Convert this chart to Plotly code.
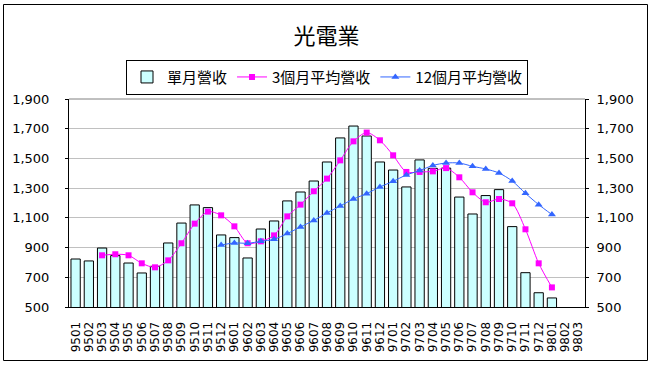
import plotly.graph_objects as go

months = ["9501","9502","9503","9504","9505","9506","9507","9508","9509","9510","9511","9512",
          "9601","9602","9603","9604","9605","9606","9607","9608","9609","9610","9611","9612",
          "9701","9702","9703","9704","9705","9706","9707","9708","9709","9710","9711","9712",
          "9801","9802","9803"]

monthly = [823, 810, 897, 846, 796, 729, 774, 931, 1065, 1187, 1169, 985,
           967, 830, 1025, 1079, 1214, 1274, 1348, 1476, 1638, 1718, 1651, 1476,
           1422, 1308, 1490, 1433, 1435, 1240, 1126, 1250, 1290, 1041, 731, 596,
           561, None, None]

avg3 = [None, None, 848, 855, 848, 794, 767, 814, 929, 1061, 1142, 1117,
        1043, 929, 942, 982, 1110, 1189, 1279, 1364, 1487, 1615, 1674, 1622,
        1521, 1409, 1409, 1413, 1435, 1373, 1272, 1205, 1227, 1198, 1023, 794,
        632, None, None]

avg12 = [None]*11 + [917,
         931, 929, 942, 956, 994, 1039, 1083, 1133, 1180, 1227, 1263, 1308,
         1346, 1389, 1418, 1453, 1469, 1469, 1447, 1429, 1402, 1348, 1265, 1189,
         1122, None, None]

yticks = [500, 700, 900, 1100, 1300, 1500, 1700, 1900]

FONT = "DejaVu Sans"
CJK = "Noto Sans CJK TC"

fig = go.Figure()
fig.add_trace(go.Bar(x=months, y=monthly, name="單月營收",
                     marker=dict(color="#CCFFFF", line=dict(color="black", width=1))))
fig.add_trace(go.Scatter(x=months, y=avg3, name="3個月平均營收", mode="lines+markers",
                         line=dict(color="#FF00FF", width=1, shape="spline", smoothing=0.8),
                         marker=dict(symbol="square", size=6, color="#FF00FF")))
fig.add_trace(go.Scatter(x=months, y=avg12, name="12個月平均營收", mode="lines+markers",
                         line=dict(color="#3366FF", width=1, shape="spline", smoothing=0.8),
                         marker=dict(symbol="triangle-up", size=7, color="#3366FF")))
# dummy trace to display the right axis
fig.add_trace(go.Scatter(x=[months[0]], y=[None], yaxis="y2", showlegend=False,
                         hoverinfo="skip", mode="lines"))

axis_common = dict(range=[500, 1900], tickvals=yticks, tickformat=",",
                   ticks="outside", ticklen=3, tickcolor="black",
                   showline=True, linecolor="black", linewidth=1,
                   tickfont=dict(family=FONT, size=13, color="black"), zeroline=False)

fig.update_layout(
    width=653, height=366,
    margin=dict(l=69, r=68, t=99, b=59, pad=0),
    paper_bgcolor="white", plot_bgcolor="white",
    bargap=0.3,
    title=dict(text="光電業", x=0.5, xanchor="center", y=1 - 36/366, yanchor="middle",
               font=dict(family=CJK, size=22, color="black")),
    legend=dict(orientation="h", x=0.5, xanchor="center", y=1.189, yanchor="top",
                bordercolor="black", borderwidth=1, bgcolor="white",
                font=dict(family=CJK, size=15, color="black"),
                tracegroupgap=0),
    xaxis=dict(type="category", categoryorder="array", categoryarray=months,
               tickmode="array", tickvals=months, ticktext=months,
               range=[-0.5, len(months) - 0.5], tickangle=-90,
               showline=True, linecolor="black", linewidth=1, ticks="",
               ticklabelstandoff=9,
               tickfont=dict(family=FONT, size=12, color="black"), showgrid=False),
    yaxis=dict(**axis_common, showgrid=True, gridcolor="#C0C0C0", gridwidth=1,
               ticklabelstandoff=13),
    yaxis2=dict(**axis_common, overlaying="y", side="right", showgrid=False,
                ticklabelstandoff=5),
    showlegend=True,
)

# top plot border (gray) and outer chart frame
fig.add_shape(type="line", xref="paper", yref="paper", x0=0, x1=1, y0=1, y1=1,
              line=dict(color="#808080", width=1))
fig.add_shape(type="rect", xref="paper", yref="paper",
              x0=(3.5 - 69) / 516, x1=(647.5 - 69) / 516,
              y0=(307 - 360.5) / 208, y1=(307 - 4.5) / 208,
              line=dict(color="black", width=1), fillcolor="rgba(0,0,0,0)")

fig.write_html("out.html", config={"displayModeBar": False},
               post_script="document.body.style.margin='0';document.body.style.padding='0';")
